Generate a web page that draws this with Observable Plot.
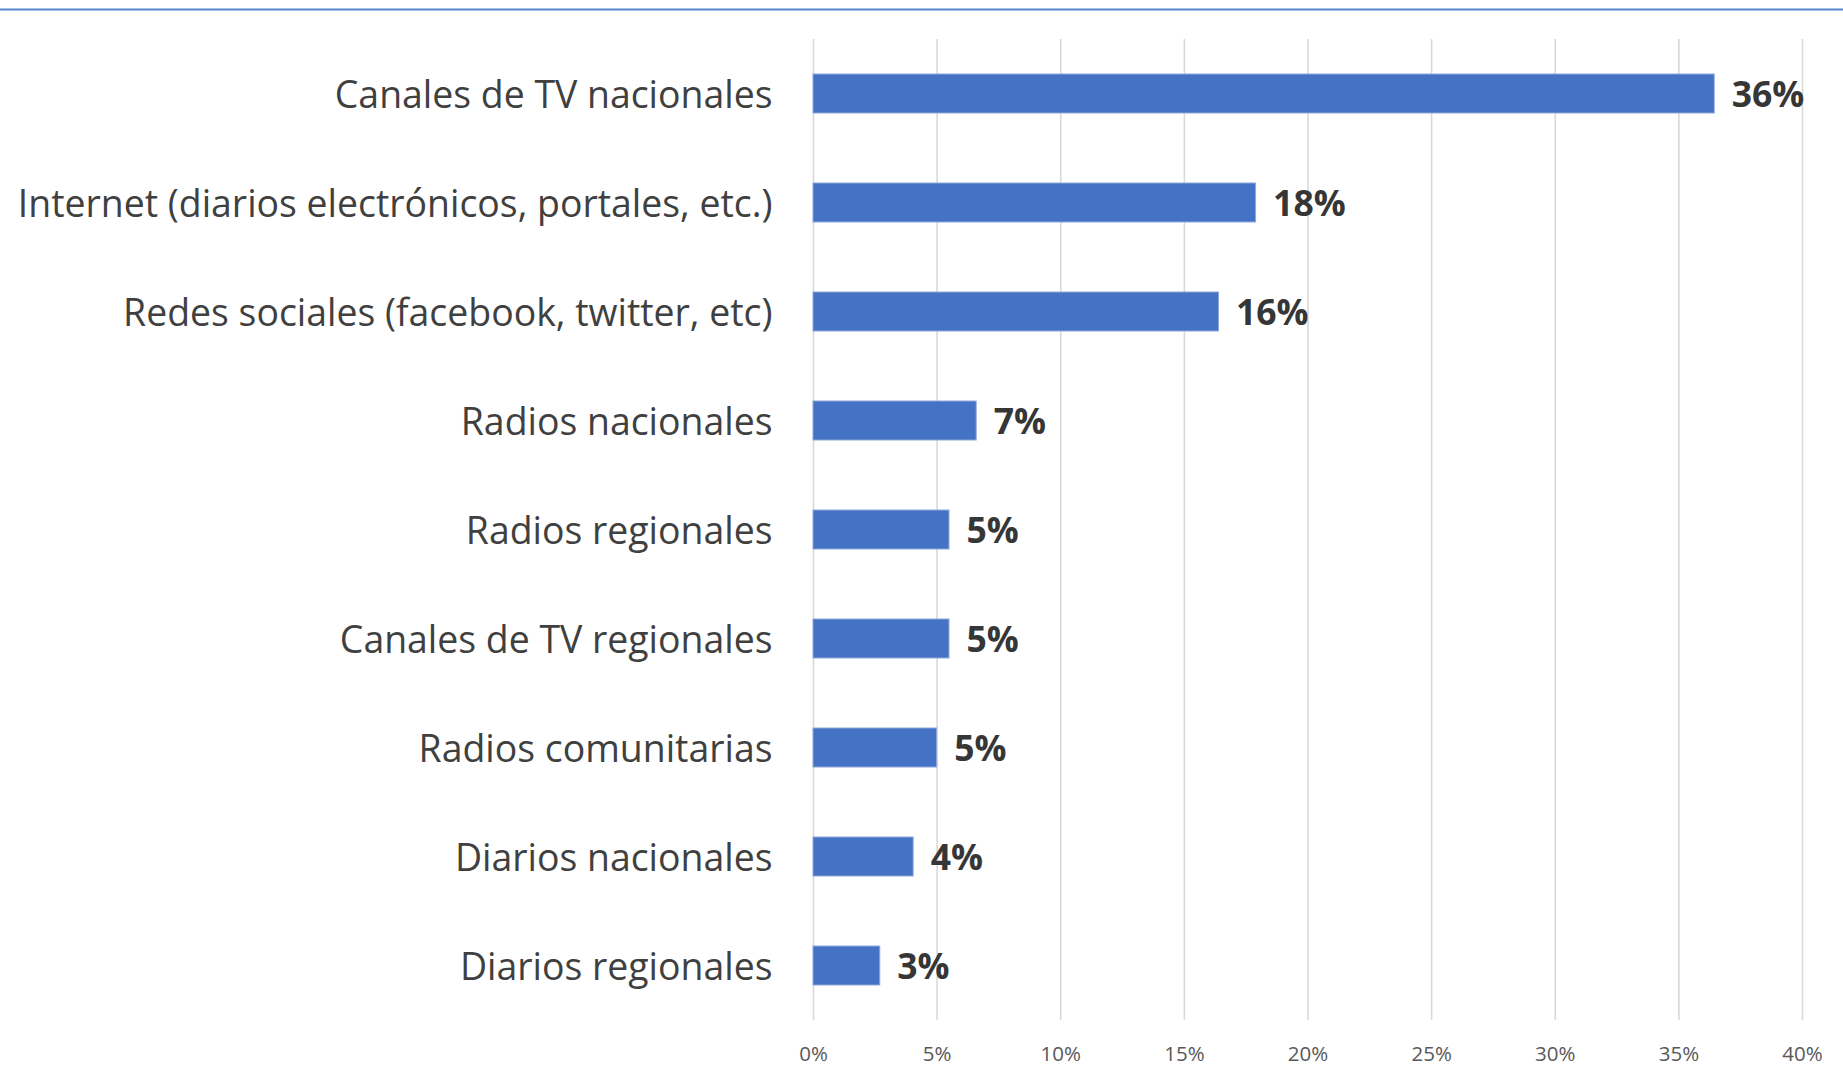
<!DOCTYPE html>
<html>
<head>
<meta charset="utf-8">
<script src="https://cdn.jsdelivr.net/npm/d3@7"></script>
<script src="https://cdn.jsdelivr.net/npm/@observablehq/plot@0.6"></script>
<style>
  html, body { margin: 0; padding: 0; background: #ffffff; }
  #wrap { position: relative; width: 1843px; height: 1077px; overflow: hidden; }
  #topline { position: absolute; left: 0; top: 8px; width: 100%; height: 3px;
    background: linear-gradient(#a9c2ea 0, #a9c2ea 25%, #5a87cc 25%, #5a87cc 75%, #a9c2ea 75%); }
  #chart svg { display: block; }
  #chart [aria-label^="x-axis"] text { font-size: 20.5px; fill: #595959; }
  #chart [aria-label^="y-axis"] text { font-size: 37.4px; fill: #404040; }
</style>
</head>
<body>
<div id="wrap">
  <div id="chart"></div>
  <div id="topline"></div>
</div>
<script>
const categories = [
  "Canales de TV nacionales",
  "Internet (diarios electrónicos, portales, etc.)",
  "Redes sociales (facebook, twitter, etc)",
  "Radios nacionales",
  "Radios regionales",
  "Canales de TV regionales",
  "Radios comunitarias",
  "Diarios nacionales",
  "Diarios regionales"
];
const values = [36.45, 17.9, 16.4, 6.6, 5.5, 5.5, 5.0, 4.05, 2.7];
const valueLabels = ["36%", "18%", "16%", "7%", "5%", "5%", "5%", "4%", "3%"];
const xTicks = [0, 5, 10, 15, 20, 25, 30, 35, 40];

const rows = categories.map((c, i) => ({cat: c, value: values[i], label: valueLabels[i]}));

const hasAxisMarks = typeof Plot.axisY === "function";

const yScale = {
  domain: categories,
  paddingInner: 0.645,
  paddingOuter: 0.3225,
  align: 0.5,
  tickSize: 0,
  tickPadding: 41,
  label: null
};
if (hasAxisMarks) yScale.axis = null;

const marks = [
  Plot.ruleX(xTicks, { x: d => d, stroke: "#d9d9d9", strokeWidth: 1.6 }),
  Plot.barX(rows, { x: "value", y: "cat", fill: "#4472C4", stroke: "#8EA9DB", strokeWidth: 1 }),
  Plot.text(rows, {
    x: "value", y: "cat", text: "label", dx: 17, dy: 2, textAnchor: "start",
    fontWeight: "bold", fontSize: 35.5, fill: "#363636"
  })
];
if (hasAxisMarks) {
  marks.push(Plot.axisY({ tickSize: 0, tickPadding: 41, label: null, dy: 2, fontSize: 37.4, fill: "#404040" }));
}

const chart = Plot.plot({
  width: 1843,
  height: 1077,
  marginTop: 39,
  marginBottom: 57,
  marginLeft: 813,
  marginRight: 41,
  style: { fontFamily: "'Open Sans', sans-serif", background: "#ffffff", overflow: "visible" },
  x: {
    domain: [0, 40],
    ticks: xTicks,
    tickFormat: d => `${d}%`,
    tickSize: 0,
    tickPadding: 26,
    label: null
  },
  y: yScale,
  marks
});
document.getElementById("chart").appendChild(chart);
</script>
</body>
</html>
